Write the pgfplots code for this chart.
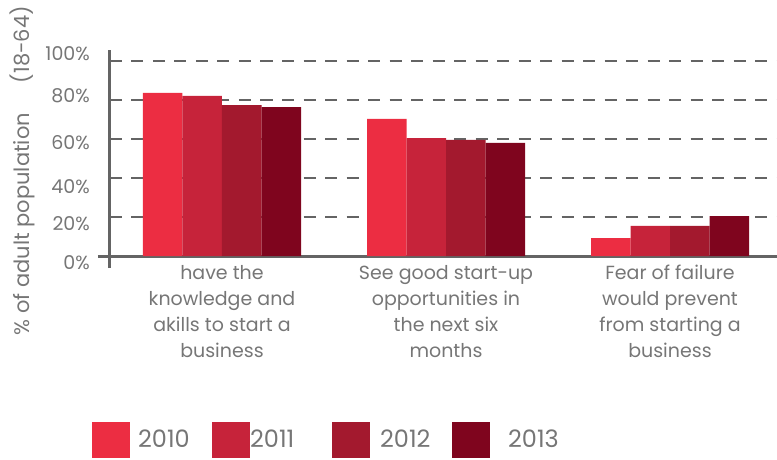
\documentclass[border=0pt]{standalone}
\usepackage{pgfplots}
\pgfplotsset{compat=1.18}
\usepackage{fontspec}
\setmainfont{Poppins}

\definecolor{c2010}{RGB}{236,45,66}
\definecolor{c2011}{RGB}{198,35,58}
\definecolor{c2012}{RGB}{163,25,46}
\definecolor{c2013}{RGB}{127,5,30}
\definecolor{txt}{RGB}{118,118,118}
\definecolor{axisgray}{RGB}{100,100,100}

\pgfplotsset{
  sqleg/.style={legend image code/.code={\fill[##1,draw=none] (0pt,-18pt) rectangle (38pt,18pt);}},
}

\begin{document}
\begin{tikzpicture}
\begin{axis}[
  at={(0pt,0pt)}, anchor=south west,
  x=224pt, y=1.95pt,
  xmin=0, xmax=2.978, ymin=0, ymax=105.6,
  axis lines=left,
  axis line style={-, draw=axisgray, line width=3pt},
  x axis line style={shorten <=-12pt},
  y axis line style={shorten <=-12pt},
  ybar=0pt, bar width=39.5pt,
  tick style={draw=none}, major tick length=0pt,
  ytick={0,20,40,60,80,100},
  yticklabels={
    \raisebox{-13.8pt}[0pt][0pt]{0\%},
    \raisebox{-13.3pt}[0pt][0pt]{20\%},
    \raisebox{-15.3pt}[0pt][0pt]{40\%},
    \raisebox{-10.3pt}[0pt][0pt]{60\%},
    \raisebox{-2.8pt}[0pt][0pt]{80\%},
    \raisebox{0.2pt}[0pt][0pt]{100\%}},
  yticklabel style={anchor=east, inner sep=0pt, xshift=-20pt,
    font=\fontsize{19}{22}\selectfont, text=txt},
  ymajorgrids,
  major grid style={dash pattern=on 12pt off 9.5pt, line width=2pt, draw=axisgray},
  xtick={0.5,1.5,2.5},
  xticklabels={
    {have the\\knowledge and\\akills to start a\\business},
    {See good start-up\\opportunities in\\the next six\\months},
    {Fear of failure\\would prevent\\from starting a\\business}},
  xticklabel style={anchor=north, align=center, inner sep=0pt, yshift=-9pt,
    font=\fontsize{19}{26}\selectfont, text=txt},
  ylabel={\% of adult population\hspace{30pt}(18-64)},
  ylabel style={at={(axis description cs:-0.132,0.415)}, anchor=center,
    font=\fontsize{21}{24}\selectfont, text=txt},
  legend columns=4,
  legend style={draw=none, fill=none, inner sep=0pt,
    at={(-0.027,-0.893)}, anchor=west,
    nodes={inner sep=0pt, text=txt, font=\fontsize{24}{26}\selectfont},
    column sep=0pt},
]
% 2010
\addplot[fill=c2010, draw=none, sqleg] coordinates {(0.5,83.6) (1.5,70.3) (2.5,9.2)};
% 2011
\addplot[fill=c2011, draw=none, sqleg] coordinates {(0.5,82.1) (1.5,60.5) (2.5,15.4)};
% 2012
\addplot[fill=c2012, draw=none, sqleg] coordinates {(0.5,77.4) (1.5,59.5) (2.5,15.4)};
% 2013
\addplot[fill=c2013, draw=none, sqleg] coordinates {(0.5,76.4) (1.5,58.0) (2.5,20.5)};
\legend{
  \makebox[82pt][l]{\hspace{8pt}2010},
  \makebox[82pt][l]{\hspace{0pt}2011},
  \makebox[82pt][l]{\hspace{10pt}2012},
  \makebox[82pt][l]{\hspace{18pt}2013}}
\end{axis}
\pgfresetboundingbox
\path[use as bounding box] (-110pt,-204pt) rectangle (667pt,256pt);
\end{tikzpicture}
\end{document}
